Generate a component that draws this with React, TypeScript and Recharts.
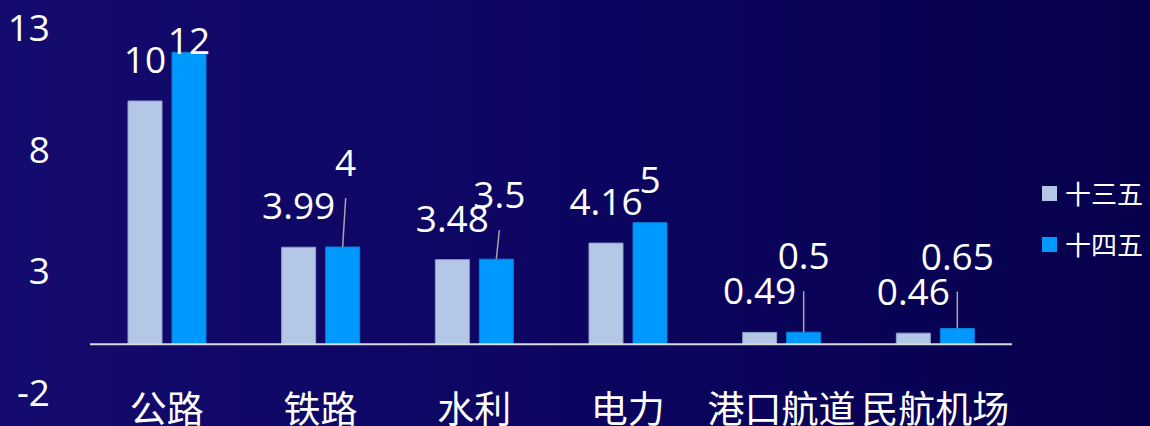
import React from 'react';
import { BarChart, Bar, XAxis, YAxis, ReferenceLine, LabelList } from 'recharts';

const categories = ['公路', '铁路', '水利', '电力', '港口航道', '民航机场'];
const plan13 = [10, 3.99, 3.48, 4.16, 0.49, 0.46];
const plan14 = [12, 4, 3.5, 5, 0.5, 0.65];
const yTicks = [-2, 3, 8, 13];
const seriesNames = ['十三五', '十四五'];

// label placement (style, in px)
const lift14 = [-2, 71, 51, 30, 63, 59];
const shift14 = [0, 3, 3, 0, 0, 0];

const COLOR13 = '#b4c7e7';
const COLOR14 = '#0099ff';
const FONT = '"Open Sans", "Noto Sans CJK SC", sans-serif';

const data = categories.map((c, i) => ({ name: c, a: plan13[i], b: plan14[i] }));

const Label13 = (props: any) => {
  const { x, y, width, value } = props;
  return (
    <text x={x + width / 2} y={y - 28} textAnchor="middle" fill="#fff" fontSize={37} fontFamily={FONT}>
      {value}
    </text>
  );
};

const Label14 = (props: any) => {
  const { x, y, width, value, index } = props;
  const cx = x + width / 2;
  const lift = lift14[index];
  const base = y - lift;
  const lx = cx + shift14[index];
  return (
    <g>
      {lift > 40 && (
        <line x1={cx} y1={y} x2={lx} y2={base + 22} stroke="#a6a6a6" strokeWidth={1.5} />
      )}
      <text x={lx} y={base} textAnchor="middle" fill="#fff" fontSize={37} fontFamily={FONT}>
        {value}
      </text>
    </g>
  );
};

const XTick = (props: any) => {
  const { x, payload } = props;
  return (
    <text x={x} y={423} textAnchor="middle" fill="#fff" fontSize={37} fontFamily={FONT}>
      {payload.value}
    </text>
  );
};

const YTick = (props: any) => {
  const { y, payload } = props;
  return (
    <text x={50} y={y} dy={13} textAnchor="end" fill="#fff" fontSize={37} fontFamily={FONT}>
      {payload.value}
    </text>
  );
};

export default function App() {
  return (
    <div
      style={{
        position: 'fixed',
        left: 0,
        top: 0,
        width: 1150,
        height: 426,
        background: 'linear-gradient(90deg, #140b6e 0%, #0c0560 50%, #06004c 100%)',
        overflow: 'hidden',
      }}
    >
      <BarChart
        width={1150}
        height={426}
        data={data}
        margin={{ top: 28, right: 138, left: 0, bottom: 0 }}
        barSize={34}
        barGap={10}
      >
        <XAxis
          dataKey="name"
          height={33}
          axisLine={false}
          tickLine={false}
          tickSize={0}
          tick={<XTick />}
          interval={0}
        />
        <YAxis
          width={90}
          domain={[-2, 13]}
          ticks={yTicks}
          axisLine={false}
          tickLine={false}
          tick={<YTick />}
          interval={0}
        />
        <ReferenceLine y={0} stroke="#d9d9d9" strokeWidth={2} />
        <Bar dataKey="a" name={seriesNames[0]} fill={COLOR13} stroke="#8e9fc9" strokeWidth={1} isAnimationActive={false}>
          <LabelList dataKey="a" content={<Label13 />} />
        </Bar>
        <Bar dataKey="b" name={seriesNames[1]} fill={COLOR14} stroke="#0a7fd6" strokeWidth={1} isAnimationActive={false}>
          <LabelList dataKey="b" content={<Label14 />} />
        </Bar>
      </BarChart>
      <div style={{ position: 'absolute', left: 1042, top: 168, fontFamily: FONT, color: '#fff' }}>
        {seriesNames.map((n, i) => (
          <div key={n} style={{ display: 'flex', alignItems: 'center', height: 51 }}>
            <span style={{ display: 'inline-block', width: 15, height: 15, background: i === 0 ? COLOR13 : COLOR14, marginRight: 8 }} />
            <span style={{ fontSize: 26, lineHeight: '26px' }}>{n}</span>
          </div>
        ))}
      </div>
    </div>
  );
}
